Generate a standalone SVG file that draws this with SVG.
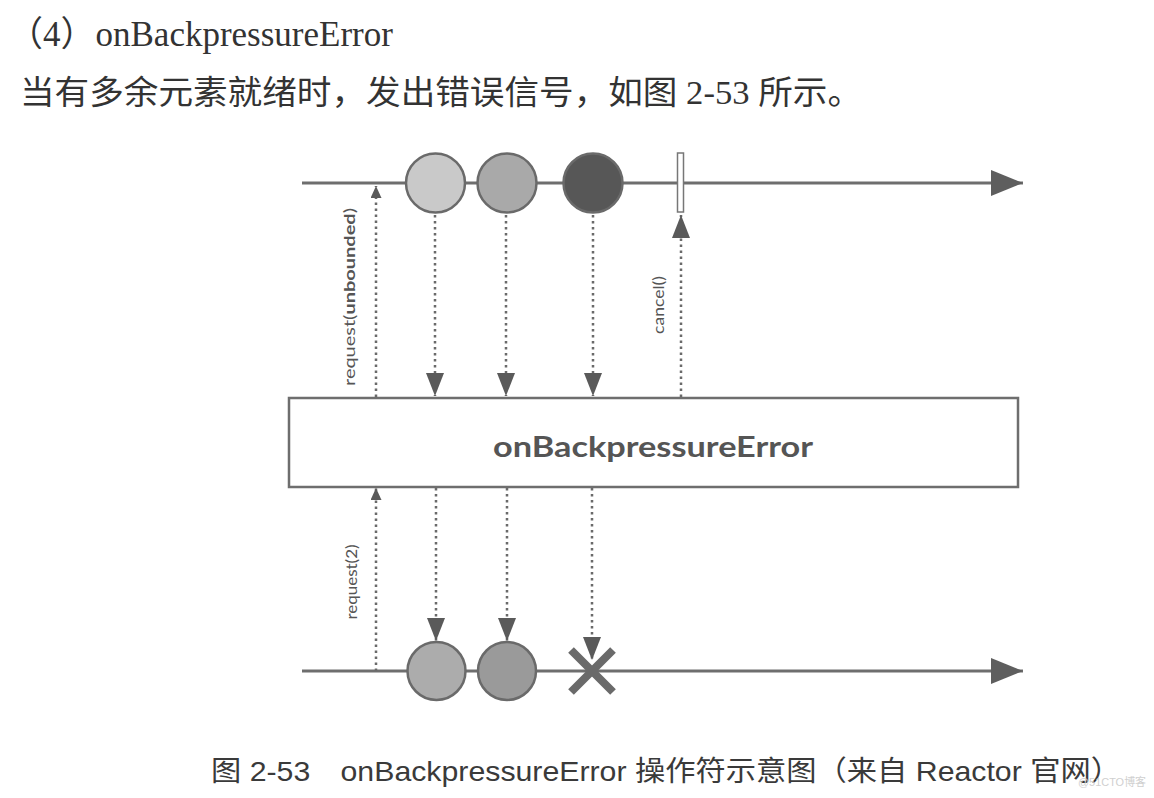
<svg xmlns="http://www.w3.org/2000/svg" width="1154" height="798" viewBox="0 0 1154 798">
<style>
.axis{stroke:#6e6e6e;stroke-width:3;fill:none}
.dash{stroke:#6a6a6a;stroke-width:2.5;stroke-dasharray:2.5 3.5;fill:none}
.lbl{font-family:Lato,"Liberation Sans",sans-serif;font-size:15px;fill:#555}
.head{font-family:"Liberation Serif","Noto Sans CJK SC",serif;fill:#333}
.cap{font-family:"Liberation Sans","Noto Sans CJK SC",sans-serif;font-size:28px;fill:#3a3a3a}
.marble{stroke:#6a6a6a;stroke-width:2.5}
</style>
<defs>
<marker id="big" markerUnits="userSpaceOnUse" viewBox="0 0 32 26" refX="32" refY="13" markerWidth="32" markerHeight="26" orient="auto"><path d="M0,0 L32,13 L0,26 z" fill="#5e5e5e"/></marker>
<marker id="mid" markerUnits="userSpaceOnUse" viewBox="0 0 23 18" refX="23" refY="9" markerWidth="23" markerHeight="18" orient="auto"><path d="M0,0 L23,9 L0,18 z" fill="#5a5a5a"/></marker>
<marker id="small" markerUnits="userSpaceOnUse" viewBox="0 0 12 11" refX="12" refY="5.5" markerWidth="12" markerHeight="11" orient="auto"><path d="M0,0 L12,5.5 L0,11 z" fill="#5a5a5a"/></marker>
</defs>

<g id="heading">
<text class="head" x="8" y="46" font-size="35">（4）onBackpressureError</text>
<text class="head" x="20" y="104" font-size="33" textLength="842" lengthAdjust="spacingAndGlyphs">当有多余元素就绪时，发出错误信号，如图 2-53 所示。</text>
</g>

<g id="connectors">
<line class="axis" x1="302" y1="183" x2="1023" y2="183" marker-end="url(#big)"/>
<line class="axis" x1="302" y1="671" x2="1023" y2="671" marker-end="url(#big)"/>
<line class="dash" x1="376" y1="397" x2="376" y2="186" marker-end="url(#small)"/>
<line class="dash" x1="435" y1="215" x2="435" y2="396" marker-end="url(#mid)"/>
<line class="dash" x1="506" y1="215" x2="506" y2="396" marker-end="url(#mid)"/>
<line class="dash" x1="593" y1="215" x2="593" y2="396" marker-end="url(#mid)"/>
<line class="dash" x1="681" y1="397" x2="681" y2="215" marker-end="url(#mid)"/>
<line class="dash" x1="376" y1="671" x2="376" y2="488" marker-end="url(#small)"/>
<line class="dash" x1="436" y1="488" x2="436" y2="641" marker-end="url(#mid)"/>
<line class="dash" x1="507" y1="488" x2="507" y2="641" marker-end="url(#mid)"/>
<line class="dash" x1="592" y1="488" x2="592" y2="660" marker-end="url(#mid)"/>
</g>

<g id="labels">
<text class="lbl" transform="translate(355 297) rotate(-90)" text-anchor="middle" textLength="178" lengthAdjust="spacingAndGlyphs">request(<tspan font-weight="bold">unbounded</tspan>)</text>
<text class="lbl" transform="translate(664 305) rotate(-90)" text-anchor="middle" textLength="58" lengthAdjust="spacingAndGlyphs">cancel()</text>
<text class="lbl" transform="translate(357 582) rotate(-90)" text-anchor="middle" textLength="75" lengthAdjust="spacingAndGlyphs">request(2)</text>
</g>

<g id="top-marbles">
<circle class="marble" cx="435.5" cy="183" r="29.5" fill="#c9c9c9"/>
<circle class="marble" cx="507" cy="183" r="29.5" fill="#a9a9a9"/>
<circle class="marble" cx="593" cy="183" r="29.5" fill="#575757"/>
<rect x="677.5" y="153" width="6" height="59" fill="#fff" stroke="#777" stroke-width="1.5"/>
</g>

<g id="operator">
<rect x="289" y="398" width="729" height="89" fill="#fff" stroke="#6e6e6e" stroke-width="2.5"/>
<text x="653" y="457" text-anchor="middle" font-family="Lato,'Liberation Sans',sans-serif" font-weight="bold" font-size="28" fill="#555" textLength="320" lengthAdjust="spacingAndGlyphs">onBackpressureError</text>
</g>

<g id="bottom-marbles">
<circle class="marble" cx="436.5" cy="671" r="29" fill="#acacac"/>
<circle class="marble" cx="507" cy="671" r="29" fill="#9a9a9a"/>
<path d="M571,650 L613,692 M571,692 L613,650" stroke="#6a6a6a" stroke-width="8"/>
</g>

<g id="caption">
<text class="cap" x="211" y="781" textLength="910" lengthAdjust="spacingAndGlyphs">图 2-53　onBackpressureError 操作符示意图（来自 Reactor 官网）</text>
<text x="1078" y="786" font-family="'Liberation Sans','Noto Sans CJK SC',sans-serif" font-size="11" fill="#d0d0d0" textLength="68" lengthAdjust="spacingAndGlyphs">@51CTO博客</text>
</g>
</svg>
